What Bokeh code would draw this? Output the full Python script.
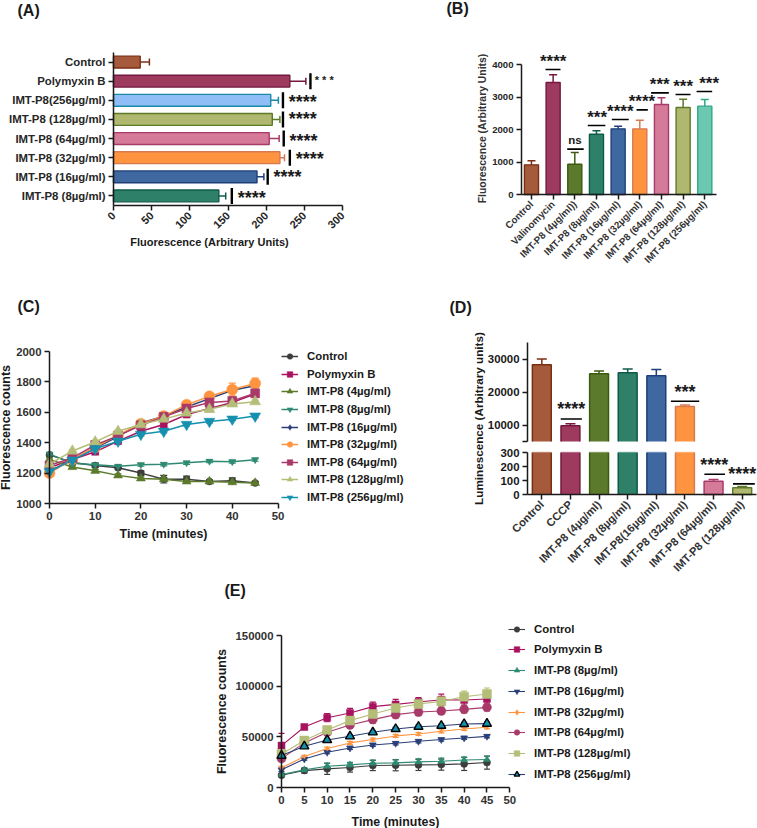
import math
from bokeh.plotting import figure
from bokeh.layouts import column, row
from bokeh.models import (FixedTicker, Whisker, TeeHead, ColumnDataSource, Label, Legend, LegendItem,
                          LinearAxis, Range1d, NumeralTickFormatter)
from bokeh.core.properties import value
from bokeh.embed import file_html
from bokeh.resources import INLINE

FONT = "Liberation Sans"
DARK = "#262626"
MU = "\u00b5"

# ---- colours
C_CTRL, L_CTRL = "#A65A3C", "#7B2E12"
C_PURP, L_PURP = "#9E3A5E", "#741840"
C_OLIV, L_OLIV = "#5C7A2C", "#3C5A10"
C_TEAL, L_TEAL = "#2E8068", "#0F5A48"
C_BLUE, L_BLUE = "#4068A0", "#1F3F78"
C_ORNG, L_ORNG = "#FF9440", "#D87A50"
C_PINK, L_PINK = "#D67A99", "#A83A6A"
C_KHAK, L_KHAK = "#AFB86E", "#5C7A2A"
C_SKY, L_SKY = "#8FBDF5", "#1A8AA8"
C_MINT, L_MINT = "#6CC8B0", "#2FA888"

# ---- panel A
a_labels = ["Control", "Polymyxin B", f"IMT-P8(256{MU}g/ml)", f"IMT-P8 (128{MU}g/ml)", f"IMT-P8 (64{MU}g/ml)",
            f"IMT-P8 (32{MU}g/ml)", f"IMT-P8 (16{MU}g/ml)", f"IMT-P8 (8{MU}g/ml)"]
a_values = [35, 231, 206, 208, 204, 218, 188, 138]
a_upper = [47, 252, 216, 218, 217, 224, 197, 147]
a_fill = [C_CTRL, C_PURP, C_SKY, C_KHAK, C_PINK, C_ORNG, C_BLUE, C_TEAL]
a_line = [L_CTRL, L_PURP, L_SKY, L_KHAK, L_PINK, L_ORNG, L_BLUE, L_TEAL]
a_sig_x = [None, 258, 222, 222, 223, 231, 202, 155]
a_star_x = [None, 276, 248, 248, 249, 257, 228, 181]
a_star_dy = [None, -0.05, 0.09, 0.0, 0.14, 0.05, 0.0, 0.09]
a_stars = [None, "* * *", "****", "****", "****", "****", "****", "****"]

# ---- panel B
b_labels = ["Control", "Valinomycin", f"IMT-P8 (4{MU}g/ml))", f"IMT-P8 (8{MU}g/ml)", f"IMT-P8 (16{MU}g/ml)",
            f"IMT-P8 (32{MU}g/ml)", f"IMT-P8 (64{MU}g/ml)", f"IMT-P8 (128{MU}g/ml)", f"IMT-P8 (256{MU}g/ml)"]
b_values = [913, 3446, 933, 1856, 2020, 2020, 2769, 2677, 2718]
b_upper = [1036, 3682, 1292, 1959, 2103, 2287, 2974, 2933, 2923]
b_fill = [C_CTRL, C_PURP, C_OLIV, C_TEAL, C_BLUE, C_ORNG, C_PINK, C_KHAK, C_MINT]
b_line = [L_CTRL, L_PURP, L_OLIV, L_TEAL, L_BLUE, L_ORNG, L_PINK, L_KHAK, L_MINT]
b_sig_y = [None, 3846, 1395, 2123, 2308, 2605, 3128, 3077, 3169]
b_sig_x0 = [None, 0.65, 1.65, 2.6, 3.71, 4.85, 5.52, 6.65, 7.62]
b_sig_x1 = [None, 1.34, 2.41, 3.41, 4.49, 5.37, 6.34, 7.34, 8.34]
b_star_x = [None, 1.0, 2.01, 3.03, 4.1, 5.1, 5.92, 7.0, 8.2]
b_star_y = [None, 4082, 1682, 2369, 2544, 2851, 3374, 3313, 3415]
b_stars = [None, "****", "ns", "***", "****", "****", "***", "***", "***"]

# ---- panel C
times = [0, 5, 10, 15, 20, 25, 30, 35, 40, 45]
c_ctrl = [1320, 1270, 1250, 1235, 1200, 1160, 1160, 1145, 1150, 1135]
c_poly = [1235, 1290, 1340, 1410, 1475, 1520, 1585, 1625, 1665, 1720]
c_4 = [1290, 1240, 1215, 1185, 1165, 1160, 1145, 1145, 1140, 1135]
c_8 = [1325, 1265, 1255, 1245, 1255, 1258, 1268, 1278, 1275, 1288]
c_16 = [1215, 1285, 1365, 1440, 1530, 1575, 1635, 1690, 1745, 1775]
c_32 = [1200, 1290, 1370, 1450, 1525, 1575, 1650, 1705, 1750, 1790]
c_64 = [1250, 1300, 1385, 1445, 1515, 1570, 1625, 1665, 1675, 1725]
c_128 = [1260, 1345, 1405, 1475, 1520, 1555, 1595, 1620, 1655, 1670]
c_256 = [1210, 1285, 1360, 1410, 1455, 1475, 1520, 1540, 1555, 1575]
c_err_ctrl = [8, 8, 12, 8, 15, 25, 20, 8, 18, 8]
c_err_small = [10, 10, 10, 10, 10, 10, 10, 10, 10, 10]
c_err_32 = [15, 15, 15, 15, 20, 20, 20, 25, 42, 35]
c_err_64 = [15, 10, 10, 15, 15, 15, 20, 25, 25, 25]
c_names = ["Control", "Polymyxin B", f"IMT-P8 (4{MU}g/ml)", f"IMT-P8 (8{MU}g/ml)", f"IMT-P8 (16{MU}g/ml)",
           f"IMT-P8 (32{MU}g/ml)", f"IMT-P8 (64{MU}g/ml)", f"IMT-P8 (128{MU}g/ml)", f"IMT-P8 (256{MU}g/ml)"]
c_series = [c_ctrl, c_poly, c_4, c_8, c_16, c_32, c_64, c_128, c_256]
c_errors = [c_err_ctrl, c_err_small, c_err_small, c_err_small, c_err_small, c_err_32, c_err_64, c_err_small, c_err_small]
c_colors = ["#3D3D3D", "#A8125F", C_OLIV, "#2E8A72", "#2A3F78", C_ORNG, "#A83A6A", "#B5BE78", "#1590AE"]
c_markers = ["circle", "square", "triangle", "inverted_triangle", "diamond", "circle", "square", "triangle", "inverted_triangle"]
c_sizes = [7, 7, 9, 7, 5, 11, 9, 11, 11]

# ---- panel D
d_labels = ["Control", "CCCP", f"IMT-P8 (4{MU}g/ml)", f"IMT-P8 (8{MU}g/ml)", f"IMT-P8(16{MU}g/ml)",
            f"IMT-P8 (32{MU}g/ml)", f"IMT-P8 (64{MU}g/ml)", f"IMT-P8 (128{MU}g/ml)"]
d_values = [28270, 9800, 25530, 25840, 24920, 15580, 95, 48]
d_upper = [30000, 10400, 26350, 26950, 26850, 16090, 107, 57]
d_fill = [C_CTRL, C_PURP, C_OLIV, C_TEAL, C_BLUE, C_ORNG, C_PINK, C_KHAK]
d_line = [L_CTRL, L_PURP, L_OLIV, L_TEAL, L_BLUE, L_ORNG, L_PINK, L_KHAK]
d_low_ticks = [0, 100, 200, 300]
d_high_ticks = [5000, 10000, 20000, 30000]
d_high_labels = {5000: "", 10000: "10000", 20000: "20000", 30000: "30000"}
d_sig_high = [(11800, 0.66, 1.4, "****", 1.03, 14770), (17200, 4.51, 5.5, "***", 5.0, 20050)]
d_sig_low = [(145, 5.68, 6.4, "****", 6.02, 212), (76, 6.68, 7.44, "****", 7.0, 143)]

# ---- panel E
e_ctrl = [12100, 16700, 18400, 19700, 21700, 22000, 22300, 22600, 23300, 24600]
e_poly = [41350, 59700, 68900, 73500, 79800, 82000, 84300, 86600, 86300, 87300]
e_8 = [12800, 17400, 21000, 22300, 24000, 24300, 25300, 25900, 27200, 27600]
e_16 = [17400, 28200, 34800, 39000, 42000, 43600, 45600, 47300, 48900, 50500]
e_32 = [19400, 30500, 38400, 44000, 47300, 50900, 52800, 55500, 57800, 59400]
e_64 = [28500, 44000, 54500, 61700, 67000, 71900, 74500, 75500, 77100, 79100]
e_128 = [33100, 46300, 56800, 66000, 72500, 78400, 82400, 85000, 89600, 92200]
e_256 = [31500, 40700, 46900, 50500, 54500, 57800, 60000, 61000, 62700, 63000]
e_err_ctrl = [1500, 2500, 5500, 4500, 5000, 5500, 5500, 5500, 6500, 6500]
e_err_poly = [12000, 2000, 4000, 4500, 4500, 5000, 4500, 5500, 5000, 5500]
e_err_8 = [1000, 1500, 3000, 2500, 3000, 3000, 3000, 3000, 2800, 3200]
e_err_small = [1500, 1200, 1500, 1500, 1500, 1500, 1500, 1500, 1500, 1500]
e_err_64 = [2000, 2000, 3000, 3000, 3500, 3500, 3500, 3000, 3500, 3500]
e_err_128 = [3000, 2000, 3500, 4000, 4500, 5000, 5000, 5000, 5500, 6000]
e_names = ["Control", "Polymyxin B", f"IMT-P8 (8{MU}g/ml)", f"IMT-P8 (16{MU}g/ml)", f"IMT-P8 (32{MU}g/ml)",
           f"IMT-P8 (64{MU}g/ml)", f"IMT-P8 (128{MU}g/ml)", f"IMT-P8 (256{MU}g/ml)"]
e_series = [e_ctrl, e_poly, e_8, e_16, e_32, e_64, e_128, e_256]
e_errors = [e_err_ctrl, e_err_poly, e_err_8, e_err_small, e_err_small, e_err_64, e_err_128, e_err_small]
e_colors = ["#3D3D3D", "#A8125F", "#2E8A72", "#2A3F78", C_ORNG, "#A83A6A", "#B5BE78", "#2A3F78"]
e_markers = ["circle", "square", "triangle", "inverted_triangle", "diamond", "circle", "square", "triangle"]
e_sizes = [7, 7, 7, 7, 5, 9, 9, 9]

BOX = {}


def scaled(v0, px0, v1, px1, fr0, fr1):
    """Range whose ends lie at pixels fr0, fr1, when value v0 sits at px0 and v1 at px1."""
    per = (v1 - v0) / (px1 - px0)
    return Range1d(v0 + (fr0 - px0) * per, v0 + (fr1 - px0) * per)


def base(x0, y0, x1, y1, xs, ys):
    """figure whose frame is the whole box (x0,y0)-(x1,y1); xs, ys = (v0, px0, v1, px1) fix the scales."""
    p = figure(width=x1 - x0, height=y1 - y0, output_backend="svg", toolbar_location=None,
               x_range=scaled(*xs, x0, x1), y_range=scaled(*ys, y1, y0),
               x_axis_location=None, y_axis_location=None,
               min_border_left=0, min_border_right=0, min_border_top=0, min_border_bottom=0,
               outline_line_color=None, background_fill_color=None, border_fill_color=None, frame_align=False)
    p.grid.visible = False
    BOX[p.id] = (x0, y0, y1)
    return p


def axis(p, side, loc, bounds, ticks, overrides=None, size=11.4, color=DARK, angle=None, y_range_name=None, formatter=None):
    kw = {}
    if y_range_name:
        kw["y_range_name"] = y_range_name
    ax = LinearAxis(fixed_location=loc, bounds=bounds, ticker=FixedTicker(ticks=ticks), **kw)
    if overrides:
        ax.major_label_overrides = overrides
    if angle is not None:
        ax.major_label_orientation = angle
    if formatter is not None:
        ax.formatter = formatter
    ax.axis_line_color = "#1a1a1a"
    ax.axis_line_width = 1.5
    ax.major_tick_line_color = "#1a1a1a"
    ax.major_tick_line_width = 1.5
    ax.major_tick_in = 0
    ax.major_tick_out = 5
    ax.minor_tick_line_color = None
    ax.major_label_text_font = FONT
    ax.major_label_text_font_style = "bold"
    ax.major_label_text_font_size = f"{size}px"
    ax.major_label_text_color = color
    ax.major_label_standoff = 3
    p.add_layout(ax, side)
    return ax


def screen_text(p, rx, ry, text, size=16, angle=0, align="left", color="#1a1a1a"):
    x0, y0, _ = BOX[p.id]
    p.add_layout(Label(x=rx - x0, y=ry - y0, x_units="canvas", y_units="canvas", text=text, angle=angle,
                       text_font=FONT, text_font_style="bold", text_font_size=f"{size}px", text_color=color,
                       text_align=align, text_baseline="middle"))


def whisk(p, xs, lows, ups, colors, dim="height", cap=8, y_range_name=None, width=1.5):
    for x, l, u, c in zip(xs, lows, ups, colors):
        src = ColumnDataSource(dict(b=[x], l=[l], u=[u]))
        w = Whisker(base="b", lower="l", upper="u", source=src, dimension=dim, level="glyph",
                    line_color=c, line_width=width,
                    upper_head=TeeHead(size=cap, line_color=c, line_width=width), lower_head=None)
        if y_range_name:
            w.y_range_name = y_range_name
        p.add_layout(w)


def stars(p, xs, ys, texts, size=18, y_range_name=None):
    kw = dict(y_range_name=y_range_name) if y_range_name else {}
    p.text(x=xs, y=ys, text=texts, text_font=value(FONT), text_font_style="bold", text_font_size=f"{size}px",
           text_color="#1a1a1a", text_align="center", text_baseline="middle", **kw)


# ---------- A
a_y = [len(a_labels) - 0.5 - i for i in range(len(a_labels))]
pa = base(0, 0, 430, 290, (0, 113, 300, 342), (0, 205, 8, 52))
pa.hbar(y=a_y, right=a_values, left=0, height=0.62, fill_color=a_fill, line_color=a_line, line_width=1.4)
whisk(pa, a_y, a_values, a_upper, a_line, dim="width", cap=7)
for y, x in zip(a_y, a_sig_x):
    if x is not None:
        pa.line([x, x], [y - 0.42, y + 0.42], line_color="black", line_width=2.4)
for y, x, t, dy in zip(a_y, a_star_x, a_stars, a_star_dy):
    if x is not None:
        stars(pa, [x], [y - dy], [t], size=18 if t == "****" else 11)
axis(pa, "below", 0, (0, 300), [0, 50, 100, 150, 200, 250, 300], size=11, angle=math.pi / 4)
axis(pa, "left", 0, (0, 8), a_y, {y: l for y, l in zip(a_y, a_labels)})
screen_text(pa, 209, 241, "Fluorescence (Arbitrary Units)", size=11, align="center")
screen_text(pa, 17, 10, "(A)")

# ---------- B
b_x = list(range(len(b_labels)))
pb = base(430, 0, 757, 290, (-0.46, 521, 8.54, 716), (0, 194, 4000, 64))
pb.vbar(x=b_x, top=b_values, bottom=0, width=0.65, fill_color=b_fill, line_color=b_line, line_width=1.4)
whisk(pb, b_x, b_values, b_upper, b_line, cap=8)
for y, x0, x1 in zip(b_sig_y, b_sig_x0, b_sig_x1):
    if y is not None:
        pb.line([x0, x1], [y, y], line_color="black", line_width=1.6)
for x, y, t in zip(b_star_x, b_star_y, b_stars):
    if x is not None:
        stars(pb, [x], [y], [t], size=11.5 if t == "ns" else 17)
axis(pb, "below", 0, (-0.46, 8.54), b_x, {x: l for x, l in zip(b_x, b_labels)}, size=9.8, color="#333333", angle=math.pi / 4)
axis(pb, "left", -0.46, (0, 4000), [0, 1000, 2000, 3000, 4000], size=9.6)
screen_text(pb, 482, 128, "Fluorescence (Arbitrary Units)", size=10.4, angle=math.pi / 2, align="center", color="#333333")
screen_text(pb, 446, 8, "(B)")


def time_plot(p, series, errors, colors, markers, sizes, names, cap, outline=None, lw=1.5):
    items = []
    for i, (ys, es, c, m, s, n) in enumerate(zip(series, errors, colors, markers, sizes, names)):
        up = [y + e for y, e in zip(ys, es)]
        lo = [y - e for y, e in zip(ys, es)]
        src = ColumnDataSource(dict(b=times, l=lo, u=up))
        w = Whisker(base="b", lower="l", upper="u", source=src, level="underlay", line_color=c, line_width=1.2,
                    upper_head=TeeHead(size=cap, line_color=c, line_width=1.2),
                    lower_head=TeeHead(size=cap, line_color=c, line_width=1.2))
        p.add_layout(w)
        r1 = p.line(times, ys, line_color=c, line_width=lw)
        lc, fc, lwd = c, c, 0.5
        if outline is not None and i == len(series) - 1:
            lc, fc, lwd = outline[0], outline[1], 1.4
        r2 = p.scatter(times, ys, marker=m, size=s, fill_color=fc, line_color=lc, line_width=lwd)
        items.append(LegendItem(label=n, renderers=[r1, r2]))
    return items


def add_legend(p, items, gx, row0, row_last):
    """one legend row per entry, so that the rows keep the reference's fractional pitch"""
    x0, _, y1 = BOX[p.id]
    lh = 14
    for i, item in enumerate(items):
        cy = row0 + (row_last - row0) * i / (len(items) - 1)
        leg = Legend(items=[item], location=(gx - x0, y1 - cy - lh / 2), padding=0, margin=0, spacing=0,
                     glyph_width=17, glyph_height=lh, label_height=lh, label_standoff=9,
                     label_text_font=FONT, label_text_font_style="bold", label_text_font_size="11.4px",
                     label_text_color="#1a1a1a", label_text_baseline="middle",
                     border_line_color=None, background_fill_alpha=0)
        p.add_layout(leg, "center")


# ---------- C
pc = base(0, 290, 430, 582, (0, 49, 50, 277.5), (1000, 503, 2000, 351))
it = time_plot(pc, c_series, c_errors, c_colors, c_markers, c_sizes, c_names, cap=7)
add_legend(pc, it, 281, 356.3, 496.7)
axis(pc, "below", 1000, (0, 50), [0, 10, 20, 30, 40, 50], color="#333333")
axis(pc, "left", 0, (1000, 2000), [1000, 1200, 1400, 1600, 1800, 2000], color="#333333")
screen_text(pc, 163, 533, "Time (minutes)", size=12.4, align="center")
screen_text(pc, 5, 427, "Fluorescence counts", size=12.5, angle=math.pi / 2, align="center")
screen_text(pc, 17, 306, "(C)")

# ---------- D: a broken axis, two scales over one frame
FR_BOT, AX_TOP, HI_BOT, LO_TOP = 494, 342, 441, 452
d_x = list(range(len(d_labels)))
pd_ = base(430, 290, 757, 582, (-0.5, 527, 7.5, 756), (0, FR_BOT, 300, LO_TOP))
pd_.extra_y_ranges = {"hi": scaled(5000, HI_BOT, 35000, AX_TOP, 582, 290)}
w = 0.33
for x, v, u, f, l in zip(d_x, d_values, d_upper, d_fill, d_line):
    if v >= 5000:
        pd_.vbar(x=[x], top=[v], bottom=[5000], width=2 * w, fill_color=f, line_color=None, y_range_name="hi")
        pd_.line([x - w, x - w, x + w, x + w], [5000, v, v, 5000], line_color=l, line_width=1.5, y_range_name="hi")
        whisk(pd_, [x], [v], [u], [l], cap=10, y_range_name="hi")
        pd_.vbar(x=[x], top=[300], bottom=[0], width=2 * w, fill_color=f, line_color=None)
        pd_.line([x - w, x - w], [0, 300], line_color=l, line_width=1.5)
        pd_.line([x + w, x + w], [0, 300], line_color=l, line_width=1.5)
        pd_.line([x - w, x + w], [300, 300], line_color=f, line_width=1.5, line_alpha=0.5)
    else:
        pd_.vbar(x=[x], top=[v], bottom=[0], width=2 * w, fill_color=f, line_color=l, line_width=1.5)
        whisk(pd_, [x], [v], [u], [l], cap=10)
for y, x0, x1, t, tx, ty in d_sig_high:
    pd_.line([x0, x1], [y, y], line_color="black", line_width=1.6, y_range_name="hi")
    stars(pd_, [tx], [ty], [t], y_range_name="hi")
for y, x0, x1, t, tx, ty in d_sig_low:
    pd_.line([x0, x1], [y, y], line_color="black", line_width=1.6)
    stars(pd_, [tx], [ty], [t])
axis(pd_, "below", 0, (-0.5, 7.5), d_x, {x: l for x, l in zip(d_x, d_labels)}, size=11.2, color="#333333", angle=math.pi / 4)
axis(pd_, "left", -0.5, (0, 300), d_low_ticks, color="#1a1a1a")
axis(pd_, "left", -0.5, (5000, 35000), d_high_ticks, d_high_labels, color="#1a1a1a", y_range_name="hi")
screen_text(pd_, 478, 418, "Luminescence (Arbitrary units)", size=11.7, angle=math.pi / 2, align="center")
screen_text(pd_, 449, 307, "(D)")

# ---------- E
pe = base(0, 582, 757, 828, (0, 281, 50, 509.3), (0, 787, 150000, 635))
it = time_plot(pe, e_series, e_errors, e_colors, e_markers, e_sizes, e_names, cap=6,
               outline=("black", "#1590AE"), lw=1.1)
add_legend(pe, it, 508, 628.7, 774)
axis(pe, "below", 0, (0, 50), list(range(0, 55, 5)), color="#333333")
axis(pe, "left", 0, (0, 150000), [0, 50000, 100000, 150000], color="#333333", formatter=NumeralTickFormatter(format="0"))
screen_text(pe, 395, 821, "Time (minutes)", size=12.4, align="center")
screen_text(pe, 221, 711, "Fluorescence counts", size=12.5, angle=math.pi / 2, align="center")
screen_text(pe, 224, 590, "(E)")

root = column(row(pa, pb, spacing=0), row(pc, pd_, spacing=0), pe, spacing=0,
              styles={"position": "absolute", "left": "0px", "top": "0px"})
open("out.html", "w").write(file_html(root, INLINE))
